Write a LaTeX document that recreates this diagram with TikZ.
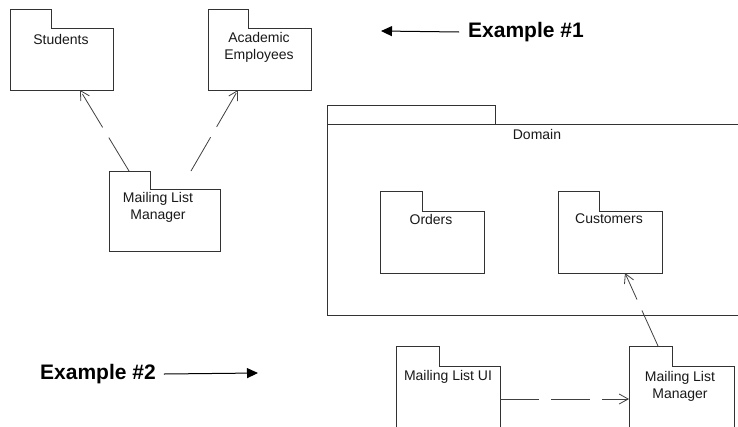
\documentclass[tikz,border=0pt]{standalone}
\usepackage{fontspec}
\setmainfont{Liberation Sans}
\usetikzlibrary{arrows.meta}
\tikzset{
 pkgline/.style={draw=black!80, line width=0.9pt},
 pkgbox/.style={draw=none, inner sep=0pt, outer sep=0pt, rectangle},
 pkgtext/.style={font=\fontsize{14}{17}\selectfont, align=center, inner sep=0pt, text=black!90},
 dep/.style={draw=black!75, line width=0.8pt, dash pattern=on 39pt off 12pt, -{Straight Barb[length=9pt,width=10pt,line width=0.8pt]}},
 exlabel/.style={font=\fontsize{21}{25}\selectfont\bfseries, inner sep=0pt},
 exarrow/.style={draw=black, line width=1pt, -{Triangle[length=11pt,width=10pt]}},
}
% small package: one outline
\newcommand{\umlpkg}[7]{%
 \node[pkgbox, minimum width=#4pt, minimum height=#5pt, anchor=north west] (#1) at (#2,#3) {};
 \draw[pkgline, line join=miter] (#1.north west) -- ++(#6,0) -- ++(0,#7) -- ([yshift=-#7pt]#1.north east)
   -- (#1.south east) -- (#1.south west) -- cycle;
}
% large package: tab and body as two boxes
\newcommand{\umlbigpkg}[7]{%
 \node[pkgbox, minimum width=#4pt, minimum height=#5pt, anchor=north west] (#1) at (#2,#3) {};
 \draw[pkgline] (#1.north west) rectangle ++(#6,#7);
 \draw[pkgline] ([yshift=-#7pt]#1.north west) rectangle (#1.south east);
}
\begin{document}
\begin{tikzpicture}[x=1pt,y=-1pt]
\fill[white] (0,0) rectangle (738,426);
\clip (0,0) rectangle (738,426);
% packages
\umlpkg{stud}{10}{9}{103}{81}{41}{19}
\umlpkg{acad}{208}{9}{103}{81}{40}{19}
\umlpkg{mlma}{109}{171}{111}{80}{41}{18}
\umlbigpkg{domain}{327}{105}{420}{210}{168}{19}
\umlpkg{orders}{380}{191}{104}{82}{42}{20}
\umlpkg{cust}{558}{191}{104}{82}{41}{20}
\umlpkg{mlui}{396}{346}{104}{100}{43}{20}
\umlpkg{mlmb}{629}{346}{105}{100}{43}{20}
% labels
\node[pkgtext] (studlbl) at (61,39) {Students};
\node[pkgtext] (acadlbl) at (259,47) {Academic\\Employees};
\node[pkgtext] (mlmalbl) at (158,207) {Mailing List\\Manager};
\node[pkgtext] (domainlbl) at (537,134) {Domain};
\node[pkgtext] (orderslbl) at (431,219) {Orders};
\node[pkgtext] (custlbl) at (609,219) {Customers};
\node[pkgtext] (muilbl) at (448,377) {Mailing List UI};
\node[pkgtext] (mlmblbl) at (680,386) {Mailing List\\Manager};
% dependencies
\draw[dep] ([xshift=20pt]mlma.north west) -- ([xshift=70pt]stud.south west);
\draw[dep] ([xshift=82pt]mlma.north west) -- ([xshift=30pt]acad.south west);
\draw[dep] ([xshift=29pt]mlmb.north west) -- ([xshift=67pt]cust.south west);
\draw[dep] ([yshift=-53pt]mlui.north east) -- ([yshift=-53pt]mlmb.north west);
% example labels
\node[exlabel, anchor=west] (ex1) at (468,32) {Example \#1};
\coordinate (ex1tip) at (381,31);
\draw[exarrow] ([xshift=-9pt]ex1.west) -- (ex1tip);
\node[exlabel, anchor=west] (ex2) at (40,374) {Example \#2};
\coordinate (ex2tip) at (258,373);
\draw[exarrow] ([xshift=8pt]ex2.east) -- (ex2tip);
\end{tikzpicture}
\end{document}
